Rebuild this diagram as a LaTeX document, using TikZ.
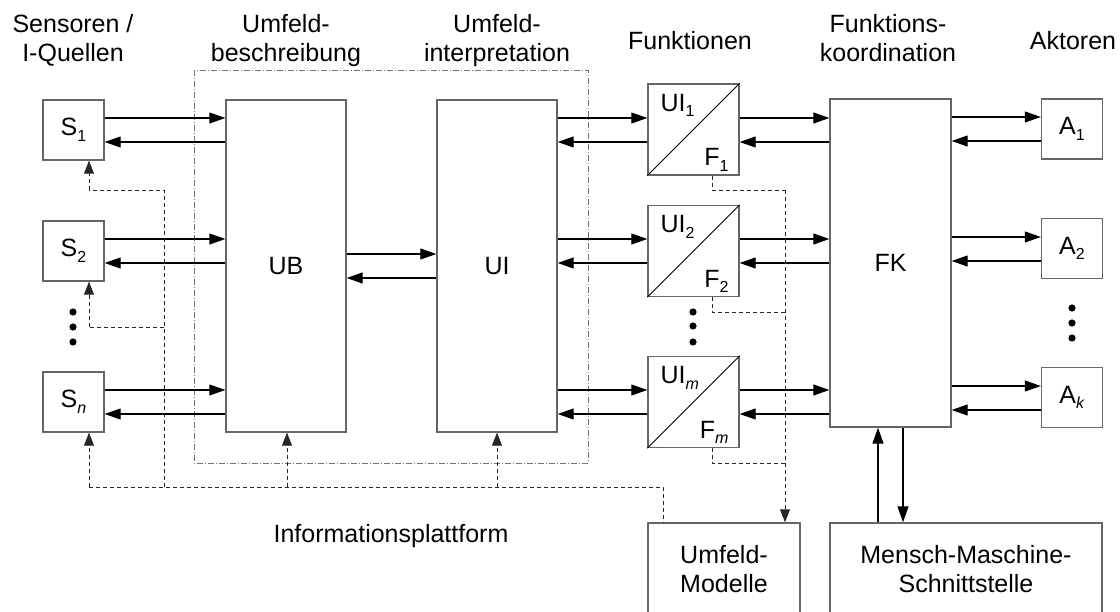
\documentclass[tikz,border=0pt]{standalone}
\usepackage{fontspec}
\setmainfont{Liberation Sans}
\usetikzlibrary{arrows.meta}

% lowered small index, as in S1, UI1, F1
\newcommand{\lo}[1]{\raisebox{-0.22em}{\fontsize{16}{16}\selectfont #1}}

\begin{document}
\begin{tikzpicture}[x=1pt,y=-1pt,
  font=\fontsize{25}{29}\selectfont,
  blk/.style={draw=black!60, line width=1.4pt, inner sep=0pt, rectangle, fill=white},
  sbox/.style={blk, minimum width=61pt, minimum height=60pt},
  fbox/.style={blk, minimum width=91pt, minimum height=91pt},
  bigbox/.style={blk, minimum width=120pt, minimum height=332pt},
  flow/.style={line width=1.1pt, -{Triangle[length=16pt,width=11pt]}},
  plain/.style={line width=1.1pt},
  info/.style={line width=0.9pt, dash pattern=on 4pt off 3pt, black!85},
  infoarr/.style={info, -{Triangle[length=13pt,width=10pt]}},
  frame/.style={line width=0.9pt, black!55, dash pattern=on 6pt off 2pt on 1pt off 2pt},
  title/.style={anchor=base, inner sep=0pt},
  dot/.style={fill=black}
]
\useasboundingbox (0,0) rectangle (1120,612);
\clip (0,0) rectangle (1120,612);

% column headings
\node[title] (h1a) at (73,33) {Sensoren /};
\node[title] (h1b) at (73,62) {I-Quellen};
\node[title] (h2a) at (286,33) {Umfeld-};
\node[title] (h2b) at (286,62) {beschreibung};
\node[title] (h3a) at (497,33) {Umfeld-};
\node[title] (h3b) at (497,62) {interpretation};
\node[title] (h4) at (690,50) {Funktionen};
\node[title] (h5a) at (888,33) {Funktions-};
\node[title] (h5b) at (888,62) {koordination};
\node[title] (h6) at (1073,50) {Aktoren};

% boundary of environment description and interpretation
\draw[frame] (194,70) rectangle (588,463);

% sensors
\node[sbox] (s1) at (73.5,130) {S\lo{1}};
\node[sbox] (s2) at (73.5,251) {S\lo{2}};
\node[sbox] (sn) at (73.5,402) {S\lo{\textit{n}}};
\fill[dot] (73,312) circle (3.6pt);
\fill[dot] (73,327) circle (3.6pt);
\fill[dot] (73,342) circle (3.6pt);

% UB and UI
\node[bigbox] (ub) at (286,266) {UB};
\node[bigbox] (ui) at (497,266) {UI};

% functions
\node[fbox] (f1) at (693.5,129.5) {};
\node[fbox] (f2) at (693.5,251) {};
\node[fbox] (fm) at (693.5,402) {};
\foreach \f/\a/\b in {f1/1/1, f2/2/2, fm/\textit{m}/\textit{m}} {
  \draw[line width=0.9pt] (\f.south west) -- (\f.north east);
  \node[anchor=base west, inner sep=0pt] (\f ui) at ([shift={(13,28)}]\f.north west) {UI\lo{\a}};
  \node[anchor=base east, inner sep=0pt] (\f fn) at ([shift={(-11,-10)}]\f.south east) {F\lo{\b}};
}
\fill[dot] (693,312) circle (3.6pt);
\fill[dot] (693,326) circle (3.6pt);
\fill[dot] (693,342) circle (3.6pt);

% coordination
\node[blk, minimum width=121pt, minimum height=328pt] (fk) at (890.5,263) {FK};

% actuators
\node[sbox] (a1) at (1072,129) {A\lo{1}};
\node[sbox] (a2) at (1072,248.5) {A\lo{2}};
\node[sbox] (ak) at (1072,397.5) {A\lo{\textit{k}}};
\fill[dot] (1072,308) circle (3.6pt);
\fill[dot] (1072,323) circle (3.6pt);
\fill[dot] (1072,338) circle (3.6pt);

% bottom boxes
\node[blk, minimum width=152pt, minimum height=110pt] (um) at (724,578) {};
\node[align=center, inner sep=0pt] (umt) at (724,569) {Umfeld-\\Modelle};
\node[blk, minimum width=272pt, minimum height=110pt] (mms) at (966,578) {};
\node[align=center, inner sep=0pt] (mmst) at (966,569) {Mensch-Maschine-\\Schnittstelle};

% sensor <-> UB
\foreach \s/\y in {s1/118, s2/239, sn/390} {
  \draw[flow] (\s.east |- 0,\y) -- (ub.west |- 0,\y);
  \draw[flow] (ub.west |- 0,\y+24) -- (\s.east |- 0,\y+24);
}
% UB <-> UI
\draw[flow] (ub.east |- 0,254) -- (ui.west |- 0,254);
\draw[flow] (ui.west |- 0,278) -- (ub.east |- 0,278);
% UI <-> functions <-> FK
\foreach \f/\y in {f1/118, f2/239, fm/390} {
  \draw[flow] (ui.east |- 0,\y) -- (\f.west |- 0,\y);
  \draw[flow] (\f.west |- 0,\y+24) -- (ui.east |- 0,\y+24);
  \draw[flow] (\f.east |- 0,\y) -- (fk.west |- 0,\y);
  \draw[flow] (fk.west |- 0,\y+24) -- (\f.east |- 0,\y+24);
}
% FK <-> actuators
\foreach \a/\y in {a1/117, a2/237, ak/386} {
  \draw[flow] (fk.east |- 0,\y) -- (\a.west |- 0,\y);
  \draw[flow] (\a.west |- 0,\y+24) -- (fk.east |- 0,\y+24);
}
% FK <-> human-machine interface
\draw[flow] (mms.north -| 878,0) -- (fk.south -| 878,0);
\draw[flow] (fk.south -| 903,0) -- (mms.north -| 903,0);

% information platform
\coordinate (bl) at (89,487);
\coordinate (bt) at (164,190);
\coordinate (bm) at (164,327);
\coordinate (br) at (663,487);
\draw[info] (164,487) -- (bt) -- (89,190);
\draw[infoarr] (89,190) -- (s1.south -| 89,0);
\draw[info] (bm) -- (89,327);
\draw[infoarr] (89,327) -- (s2.south -| 89,0);
\draw[infoarr] (bl) -- (sn.south -| 89,0);
\draw[info] (bl) -- (br) -- (um.north -| br);
\draw[infoarr] (287,487) -- (ub.south -| 287,0);
\draw[infoarr] (497,487) -- (ui.south -| 497,0);
\node[anchor=base, inner sep=0pt] (ip) at (391,542) {Informationsplattform};

% functions -> environment models
\draw[info] (f1.south -| 712,0) -- (712,190) -- (785,190);
\draw[info] (f2.south -| 712,0) -- (712,312) -- (785,312);
\draw[info] (fm.south -| 712,0) -- (712,463) -- (785,463);
\draw[infoarr] (785,190) -- (um.north -| 785,0);
\end{tikzpicture}
\end{document}
